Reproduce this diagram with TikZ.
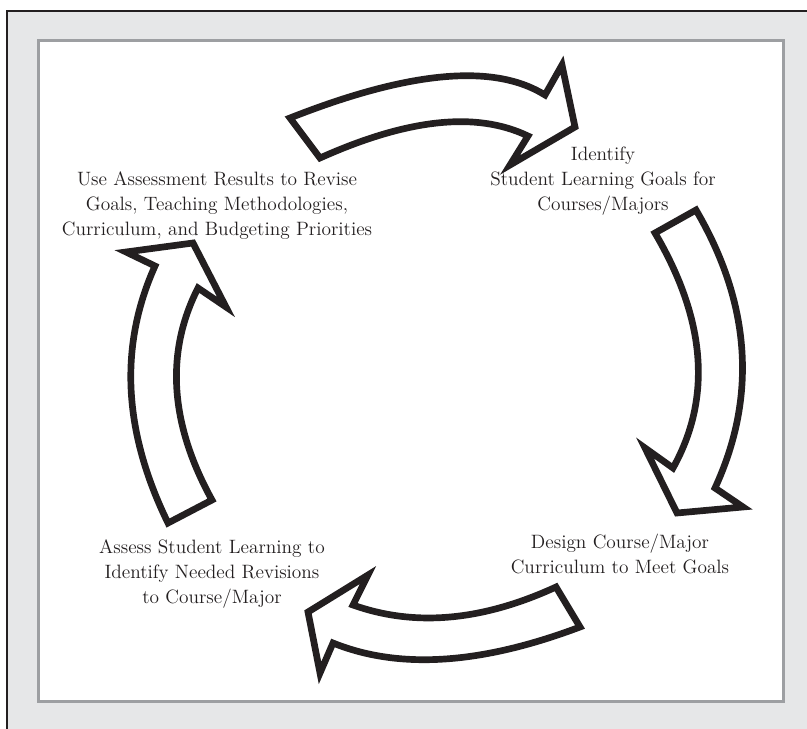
\documentclass[tikz,border=0pt]{standalone}
\definecolor{panelgray}{HTML}{E6E7E8}
\definecolor{edgegray}{HTML}{9D9FA2}
\definecolor{ink}{HTML}{231F20}
\begin{document}
\begin{tikzpicture}[x=0.02cm,y=-0.02cm,
  blockarrow/.style={draw=ink,fill=white,line width=3.8pt,line join=miter,miter limit=6},
  steptext/.style={align=center,inner sep=0pt,text=ink,font=\fontsize{11}{14.2}\selectfont}]
\useasboundingbox (0,0) rectangle (807,729);
% frame and panel
\fill[panelgray] (7,11) rectangle (820,740);
\draw[ink,line width=1.2pt] (7,740) -- (7,11) -- (820,11);
\draw[edgegray,fill=white,line width=1.7pt] (38.5,40.5) rectangle (783.5,701.5);
% the four steps
\node[steptext] (revise) at (217,206) {Use Assessment Results to Revise\\Goals, Teaching Methodologies,\\Curriculum, and Budgeting Priorities};
\node[steptext] (goals) at (603,181) {Identify\\Student Learning Goals for\\Courses/Majors};
\node[steptext] (design) at (620,554) {Design Course/Major\\Curriculum to Meet Goals};
\node[steptext] (assess) at (212,574) {Assess Student Learning to\\Identify Needed Revisions\\to Course/Major};
% top arrow
\draw[blockarrow] (290,118) .. controls (409,71) and (494,63) .. (545,95) -- (562,65) -- (575,127) -- (510,165) -- (528,136)
  .. controls (476,111) and (407,119) .. (320,158) -- cycle;
% right arrow
\draw[blockarrow] (696,210) .. controls (751,304) and (757,397) .. (715,488) -- (743,507) -- (677,513) -- (645,448) -- (673,468)
  .. controls (712,398) and (706,320) .. (655,233) -- cycle;
% bottom arrow
\draw[blockarrow] (580,627) .. controls (482,664) and (400,670) .. (333,643) -- (320,673) -- (308,612) -- (368,575) -- (353,605)
  .. controls (415,627) and (482,621) .. (556,587) -- cycle;
% left arrow
\draw[blockarrow] (168,523) .. controls (123,431) and (119,346) .. (155,266) -- (126,252) -- (193,243) -- (226,307) -- (198,288)
  .. controls (165,353) and (170,424) .. (212,500) -- cycle;
\end{tikzpicture}
\end{document}
